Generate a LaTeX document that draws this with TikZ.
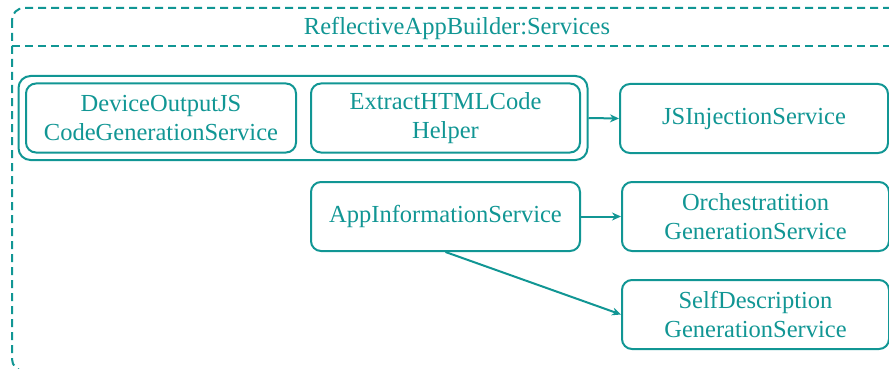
\documentclass[tikz,border=0pt]{standalone}
\usepackage{fontspec}
\setmainfont{Liberation Serif}
\usetikzlibrary{arrows.meta,fit}
\definecolor{teal1}{RGB}{17,150,148}
\begin{document}
\begin{tikzpicture}[x=1pt,y=-1pt,
  box/.style={draw=teal1,line width=2pt,rounded corners=10pt,text=teal1,align=center,
    minimum width=268pt,minimum height=69pt,inner sep=0pt,font=\fontsize{24.5}{29}\selectfont},
  conn/.style={draw=teal1,line width=2pt,-{Stealth[length=9pt,width=8pt]}}]
\useasboundingbox (0,0) rectangle (889,369);
% outer frame
\draw[teal1,line width=2pt,dash pattern=on 8pt off 5pt,rounded corners=12pt] (12,8) rectangle (902,371);
\draw[teal1,line width=2pt,dash pattern=on 8pt off 5pt] (12,46) -- (902,46);
\node[text=teal1,font=\fontsize{24.5}{29}\selectfont] (title) at (457,28) {ReflectiveAppBuilder:Services};
\node[box,minimum width=270pt] (dev) at (161,118) {DeviceOutputJS\\CodeGenerationService};
\node[box,minimum width=269pt] (ext) at (445.5,118) {ExtractHTMLCode\\Helper};
\node[draw=teal1,line width=2pt,rounded corners=12pt,inner sep=6.5pt,fit=(dev)(ext)] (grp) {};
\node[box] (jsi) at (754,118.5) {JSInjectionService};
\node[box,minimum width=269pt] (app) at (445.5,216.5) {AppInformationService};
\node[box,minimum width=267pt] (orc) at (755.5,216.5) {Orchestratition\\GenerationService};
\node[box,minimum width=267pt] (self) at (755.5,314.5) {SelfDescription\\GenerationService};
\draw[conn] (grp.east) -- (jsi.west);
\draw[conn] (app.east) -- (orc.west);
\draw[conn] (app.south) -- (self.west);
\end{tikzpicture}
\end{document}
